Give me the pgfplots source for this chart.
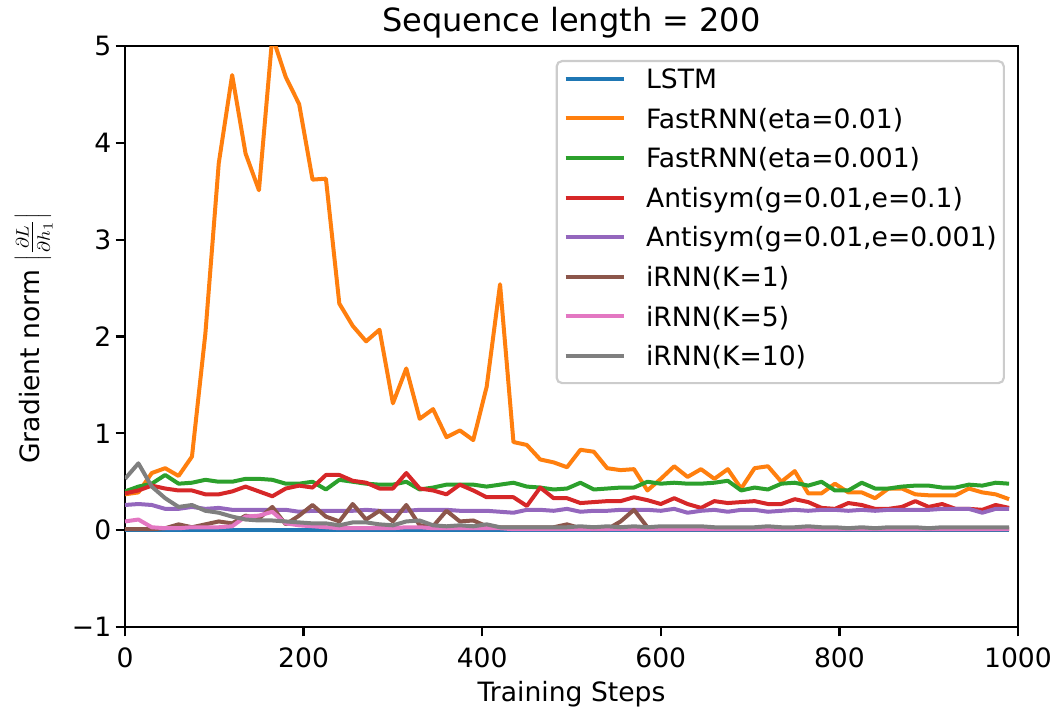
\documentclass[border=0pt]{standalone}
\usepackage{fontspec}
\setmainfont{DejaVu Sans}
\usepackage{pgfplots}
\usepackage{pgfplotstable}
\pgfplotsset{compat=1.18}
\definecolor{tabblue}{HTML}{1F77B4}
\definecolor{taborange}{HTML}{FF7F0E}
\definecolor{tabgreen}{HTML}{2CA02C}
\definecolor{tabred}{HTML}{D62728}
\definecolor{tabpurple}{HTML}{9467BD}
\definecolor{tabbrown}{HTML}{8C564B}
\definecolor{tabpink}{HTML}{E377C2}
\definecolor{tabgray}{HTML}{7F7F7F}
\newcommand{\lbl}{\fontsize{13.3}{16}\selectfont}

% gradient norm per run, one row every 15 steps
\pgfplotstableread{
x   lstm  fa   fb   aa   ab   ka   kb   kc
0   0.004 0.37 0.40 0.38 0.26 0.01 0.09 0.53
15  0.004 0.39 0.45 0.41 0.27 0.01 0.11 0.69
30  0.004 0.59 0.48 0.46 0.26 0.01 0.03 0.45
45  0.004 0.64 0.57 0.43 0.22 0.02 0.02 0.33
60  0.004 0.56 0.48 0.41 0.22 0.06 0.02 0.24
75  0.004 0.76 0.49 0.41 0.24 0.03 0.03 0.26
90  0.004 2.03 0.52 0.37 0.22 0.06 0.03 0.20
105 0.004 3.79 0.50 0.37 0.23 0.09 0.03 0.18
120 0.004 4.70 0.50 0.40 0.21 0.07 0.04 0.14
135 0.004 3.89 0.53 0.45 0.21 0.15 0.14 0.11
150 0.004 3.51 0.53 0.40 0.21 0.12 0.15 0.10
165 0.004 5.10 0.52 0.35 0.21 0.24 0.19 0.10
180 0.004 4.68 0.48 0.43 0.21 0.06 0.07 0.09
195 0.004 4.40 0.48 0.46 0.19 0.15 0.05 0.08
210 0.004 3.62 0.50 0.44 0.20 0.26 0.04 0.07
225 0.004 3.63 0.42 0.57 0.20 0.14 0.03 0.07
240 0.004 2.34 0.52 0.57 0.20 0.09 0.02 0.05
255 0.004 2.11 0.50 0.51 0.20 0.27 0.02 0.08
270 0.004 1.95 0.48 0.49 0.21 0.11 0.02 0.08
285 0.004 2.07 0.47 0.43 0.20 0.20 0.02 0.06
300 0.004 1.31 0.47 0.43 0.20 0.09 0.02 0.05
315 0.004 1.67 0.50 0.59 0.20 0.26 0.03 0.09
330 0.004 1.15 0.42 0.43 0.21 0.05 0.03 0.10
345 0.004 1.25 0.44 0.41 0.21 0.04 0.02 0.05
360 0.004 0.96 0.47 0.37 0.21 0.20 0.02 0.04
375 0.004 1.03 0.47 0.47 0.20 0.09 0.02 0.05
390 0.004 0.93 0.47 0.41 0.20 0.10 0.02 0.04
405 0.004 1.48 0.45 0.34 0.20 0.04 0.02 0.06
420 0.004 2.54 0.47 0.34 0.19 0.03 0.02 0.03
435 0.004 0.91 0.49 0.34 0.18 0.03 0.01 0.03
450 0.004 0.88 0.45 0.25 0.21 0.03 0.01 0.03
465 0.004 0.73 0.44 0.44 0.21 0.03 0.01 0.03
480 0.004 0.70 0.42 0.33 0.20 0.03 0.01 0.03
495 0.004 0.65 0.43 0.33 0.22 0.06 0.01 0.03
510 0.004 0.83 0.49 0.28 0.19 0.02 0.01 0.04
525 0.004 0.81 0.42 0.29 0.20 0.01 0.01 0.03
540 0.004 0.64 0.43 0.30 0.20 0.01 0.01 0.04
555 0.004 0.62 0.44 0.30 0.21 0.09 0.01 0.03
570 0.004 0.63 0.44 0.34 0.21 0.21 0.01 0.04
585 0.004 0.41 0.50 0.31 0.21 0.03 0.01 0.03
600 0.004 0.53 0.48 0.27 0.20 0.01 0.01 0.04
615 0.004 0.66 0.49 0.33 0.22 0.01 0.01 0.04
630 0.004 0.55 0.48 0.27 0.18 0.01 0.01 0.04
645 0.004 0.63 0.48 0.23 0.20 0.01 0.01 0.04
660 0.004 0.53 0.49 0.30 0.21 0.01 0.01 0.03
675 0.004 0.63 0.51 0.28 0.19 0.01 0.01 0.03
690 0.004 0.43 0.41 0.29 0.21 0.01 0.01 0.03
705 0.004 0.64 0.44 0.30 0.21 0.01 0.01 0.03
720 0.004 0.66 0.42 0.27 0.19 0.01 0.01 0.04
735 0.004 0.50 0.48 0.27 0.20 0.01 0.01 0.03
750 0.004 0.61 0.49 0.32 0.21 0.01 0.01 0.03
765 0.004 0.38 0.46 0.29 0.20 0.01 0.01 0.04
780 0.004 0.38 0.50 0.23 0.21 0.01 0.01 0.03
795 0.004 0.48 0.41 0.22 0.21 0.01 0.01 0.03
810 0.004 0.39 0.41 0.28 0.20 0.01 0.01 0.02
825 0.004 0.39 0.49 0.26 0.21 0.01 0.01 0.03
840 0.004 0.33 0.43 0.22 0.20 0.01 0.01 0.02
855 0.004 0.43 0.43 0.22 0.21 0.01 0.01 0.03
870 0.004 0.43 0.45 0.24 0.21 0.01 0.01 0.03
885 0.004 0.37 0.46 0.30 0.21 0.01 0.01 0.03
900 0.004 0.36 0.46 0.24 0.21 0.01 0.01 0.02
915 0.004 0.36 0.44 0.27 0.22 0.01 0.01 0.03
930 0.004 0.36 0.44 0.22 0.22 0.01 0.01 0.03
945 0.004 0.43 0.47 0.22 0.22 0.01 0.01 0.03
960 0.004 0.39 0.46 0.21 0.18 0.01 0.01 0.03
975 0.004 0.37 0.49 0.26 0.22 0.01 0.01 0.03
990 0.004 0.32 0.48 0.23 0.22 0.01 0.01 0.03
}\gradtab

\begin{document}
\begin{tikzpicture}
\begin{axis}[
  scale only axis,width=446.5pt,height=290.5pt,
  xmin=0,xmax=1000,ymin=-1,ymax=5,
  xtick={0,200,400,600,800,1000},xticklabels={0,200,400,600,800,1000},
  ytick={-1,0,1,2,3,4,5},yticklabels={−1,0,1,2,3,4,5},
  xtick pos=left,ytick pos=left,tick align=outside,
  major tick length=4.7pt,
  axis line style={line width=1.1pt},
  tick style={line width=1.1pt,black},
  xticklabel style={font=\lbl,anchor=north,inner sep=0pt,yshift=-5.5pt},
  yticklabel style={font=\lbl,anchor=east,inner sep=0pt,xshift=-2pt},
  title={Sequence length = 200},
  every axis title shift=0pt,
  title style={font=\fontsize{16}{19}\selectfont,at={(0.5,1)},anchor=base,yshift=7.5pt},
  xlabel={Training Steps},
  xlabel style={font=\lbl,at={(axis description cs:0.5,-0.1282)},anchor=base},
  ylabel={Gradient norm $\left|\frac{\partial L}{\partial h_1}\right|$},
  ylabel style={font=\lbl,at={(axis description cs:-0.0952,0.497)},anchor=base},
  legend style={at={(axis description cs:0.9854,0.9759)},anchor=north east,
    draw=black!20,line width=1.1pt,rounded corners=2.7pt,
    fill=white,fill opacity=0.8,text opacity=1,font=\lbl,
    row sep=6.4pt,column sep=10.2pt,inner xsep=3.5pt,inner ysep=4.5pt,
    nodes={inner sep=0pt,text height=9.2pt,text depth=4.2pt}},
  legend cell align=left,
  legend image code/.code={\draw[#1,line width=2pt] (0pt,2.4pt) -- (29pt,2.4pt);},
  every axis plot/.append style={line width=2pt,no marks,line join=round},
]
\coordinate (bl) at (rel axis cs:0,0);
\coordinate (tr) at (rel axis cs:1,1);
\addplot[tabblue]   table[x=x,y=lstm]{\gradtab};
\addplot[taborange] table[x=x,y=fa]{\gradtab};
\addplot[tabgreen]  table[x=x,y=fb]{\gradtab};
\addplot[tabred]    table[x=x,y=aa]{\gradtab};
\addplot[tabpurple] table[x=x,y=ab]{\gradtab};
\addplot[tabbrown]  table[x=x,y=ka]{\gradtab};
\addplot[tabpink]   table[x=x,y=kb]{\gradtab};
\addplot[tabgray]   table[x=x,y=kc]{\gradtab};
\legend{LSTM,FastRNN(eta=0.01),FastRNN(eta=0.001),{Antisym(g=0.01,e=0.1)},
  {Antisym(g=0.01,e=0.001)},iRNN(K=1),iRNN(K=5),iRNN(K=10)}
\end{axis}
\path ([shift={(-62.5pt,-42pt)}]bl) rectangle ([shift={(19.5pt,23pt)}]tr);
\end{tikzpicture}
\end{document}
